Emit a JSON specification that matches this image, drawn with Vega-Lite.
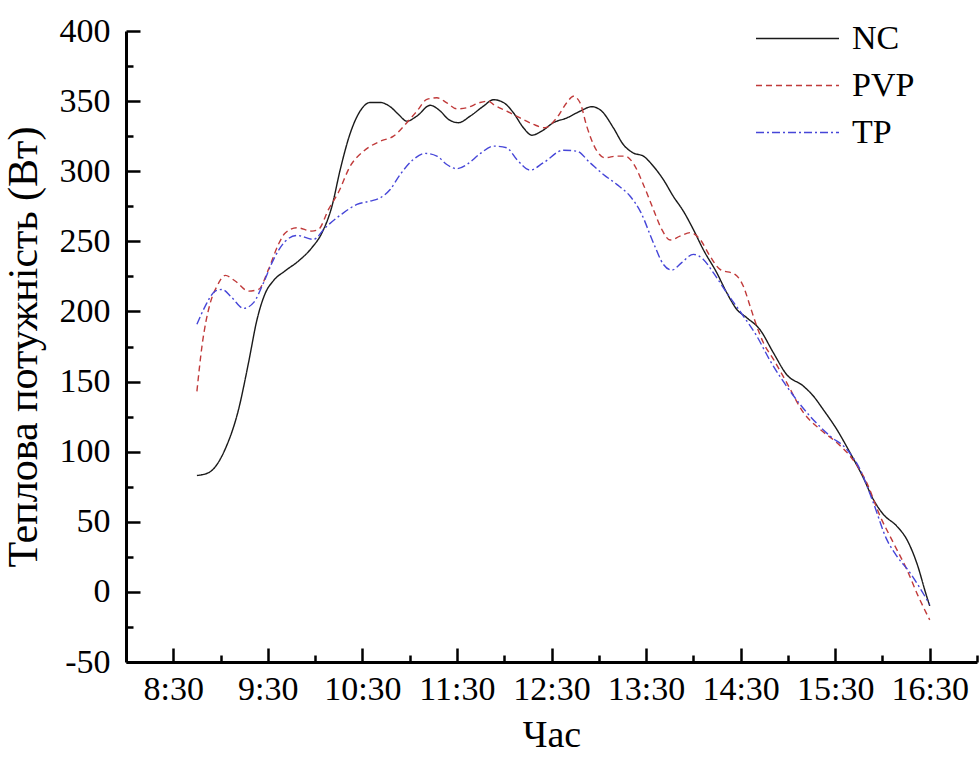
{
  "$schema": "https://vega.github.io/schema/vega-lite/v6.json",
  "width": 851,
  "height": 631,
  "autosize": {"type": "none"},
  "padding": {"left": 126, "top": 31, "right": 2, "bottom": 96},
  "background": "white",
  "config": {
    "view": {"stroke": null},
    "font": "Liberation Serif, serif",
    "axis": {"labelFont": "Liberation Serif, serif", "titleFont": "Liberation Serif, serif", "labelColor": "black", "titleColor": "black", "titleFontWeight": "normal", "domainColor": "black", "tickColor": "black", "grid": false},
    "legend": {"labelFont": "Liberation Serif, serif"}
  },
  "data": {"values": [
    {"t": 8.750, "v": 83, "s": "NC"},
    {"t": 8.873, "v": 85, "s": "NC"},
    {"t": 9.050, "v": 102, "s": "NC"},
    {"t": 9.190, "v": 130, "s": "NC"},
    {"t": 9.296, "v": 163.5, "s": "NC"},
    {"t": 9.385, "v": 194, "s": "NC"},
    {"t": 9.473, "v": 213, "s": "NC"},
    {"t": 9.560, "v": 222, "s": "NC"},
    {"t": 9.684, "v": 229, "s": "NC"},
    {"t": 9.825, "v": 236, "s": "NC"},
    {"t": 9.966, "v": 245.5, "s": "NC"},
    {"t": 10.072, "v": 256, "s": "NC"},
    {"t": 10.178, "v": 275, "s": "NC"},
    {"t": 10.265, "v": 301, "s": "NC"},
    {"t": 10.371, "v": 327, "s": "NC"},
    {"t": 10.477, "v": 343, "s": "NC"},
    {"t": 10.582, "v": 349, "s": "NC"},
    {"t": 10.688, "v": 349, "s": "NC"},
    {"t": 10.794, "v": 346, "s": "NC"},
    {"t": 10.882, "v": 340.5, "s": "NC"},
    {"t": 10.970, "v": 335.7, "s": "NC"},
    {"t": 11.076, "v": 339.3, "s": "NC"},
    {"t": 11.217, "v": 347, "s": "NC"},
    {"t": 11.322, "v": 343, "s": "NC"},
    {"t": 11.410, "v": 337, "s": "NC"},
    {"t": 11.516, "v": 334.6, "s": "NC"},
    {"t": 11.640, "v": 339.3, "s": "NC"},
    {"t": 11.780, "v": 346.4, "s": "NC"},
    {"t": 11.886, "v": 351, "s": "NC"},
    {"t": 11.992, "v": 349, "s": "NC"},
    {"t": 12.097, "v": 341.7, "s": "NC"},
    {"t": 12.203, "v": 331, "s": "NC"},
    {"t": 12.292, "v": 325.7, "s": "NC"},
    {"t": 12.397, "v": 328.6, "s": "NC"},
    {"t": 12.520, "v": 334.6, "s": "NC"},
    {"t": 12.662, "v": 338, "s": "NC"},
    {"t": 12.802, "v": 342.8, "s": "NC"},
    {"t": 12.926, "v": 346, "s": "NC"},
    {"t": 13.032, "v": 342.8, "s": "NC"},
    {"t": 13.154, "v": 331, "s": "NC"},
    {"t": 13.260, "v": 319, "s": "NC"},
    {"t": 13.366, "v": 313, "s": "NC"},
    {"t": 13.471, "v": 310.8, "s": "NC"},
    {"t": 13.577, "v": 303.6, "s": "NC"},
    {"t": 13.683, "v": 294, "s": "NC"},
    {"t": 13.789, "v": 282, "s": "NC"},
    {"t": 13.894, "v": 271.6, "s": "NC"},
    {"t": 14.000, "v": 258.5, "s": "NC"},
    {"t": 14.106, "v": 244, "s": "NC"},
    {"t": 14.247, "v": 227.7, "s": "NC"},
    {"t": 14.353, "v": 213.4, "s": "NC"},
    {"t": 14.459, "v": 201.5, "s": "NC"},
    {"t": 14.564, "v": 195.6, "s": "NC"},
    {"t": 14.705, "v": 187, "s": "NC"},
    {"t": 14.846, "v": 170.6, "s": "NC"},
    {"t": 14.987, "v": 155, "s": "NC"},
    {"t": 15.163, "v": 146.8, "s": "NC"},
    {"t": 15.269, "v": 139.7, "s": "NC"},
    {"t": 15.374, "v": 130, "s": "NC"},
    {"t": 15.516, "v": 116, "s": "NC"},
    {"t": 15.656, "v": 99.4, "s": "NC"},
    {"t": 15.797, "v": 81.5, "s": "NC"},
    {"t": 15.903, "v": 66, "s": "NC"},
    {"t": 16.008, "v": 55.4, "s": "NC"},
    {"t": 16.150, "v": 47, "s": "NC"},
    {"t": 16.256, "v": 37.6, "s": "NC"},
    {"t": 16.361, "v": 21, "s": "NC"},
    {"t": 16.467, "v": -3, "s": "NC"},
    {"t": 16.500, "v": -10, "s": "NC"},

    {"t": 8.750, "v": 143, "s": "PVP"},
    {"t": 8.803, "v": 175, "s": "PVP"},
    {"t": 8.891, "v": 206, "s": "PVP"},
    {"t": 8.962, "v": 218, "s": "PVP"},
    {"t": 9.050, "v": 225.7, "s": "PVP"},
    {"t": 9.155, "v": 221.7, "s": "PVP"},
    {"t": 9.296, "v": 214.5, "s": "PVP"},
    {"t": 9.402, "v": 215.7, "s": "PVP"},
    {"t": 9.507, "v": 230, "s": "PVP"},
    {"t": 9.613, "v": 248, "s": "PVP"},
    {"t": 9.684, "v": 256, "s": "PVP"},
    {"t": 9.808, "v": 259.7, "s": "PVP"},
    {"t": 9.966, "v": 257.3, "s": "PVP"},
    {"t": 10.036, "v": 258.5, "s": "PVP"},
    {"t": 10.142, "v": 272.8, "s": "PVP"},
    {"t": 10.247, "v": 285, "s": "PVP"},
    {"t": 10.371, "v": 303.6, "s": "PVP"},
    {"t": 10.512, "v": 314.3, "s": "PVP"},
    {"t": 10.688, "v": 321.4, "s": "PVP"},
    {"t": 10.829, "v": 325, "s": "PVP"},
    {"t": 10.970, "v": 334.6, "s": "PVP"},
    {"t": 11.076, "v": 342.8, "s": "PVP"},
    {"t": 11.182, "v": 351.2, "s": "PVP"},
    {"t": 11.288, "v": 352.4, "s": "PVP"},
    {"t": 11.393, "v": 348.8, "s": "PVP"},
    {"t": 11.499, "v": 344.5, "s": "PVP"},
    {"t": 11.605, "v": 345.3, "s": "PVP"},
    {"t": 11.745, "v": 349, "s": "PVP"},
    {"t": 11.833, "v": 350, "s": "PVP"},
    {"t": 11.886, "v": 347.6, "s": "PVP"},
    {"t": 12.027, "v": 342.8, "s": "PVP"},
    {"t": 12.168, "v": 338, "s": "PVP"},
    {"t": 12.309, "v": 333.4, "s": "PVP"},
    {"t": 12.431, "v": 331, "s": "PVP"},
    {"t": 12.555, "v": 338, "s": "PVP"},
    {"t": 12.661, "v": 348.8, "s": "PVP"},
    {"t": 12.731, "v": 353.5, "s": "PVP"},
    {"t": 12.802, "v": 348.8, "s": "PVP"},
    {"t": 12.873, "v": 332, "s": "PVP"},
    {"t": 12.961, "v": 316.7, "s": "PVP"},
    {"t": 13.067, "v": 309.6, "s": "PVP"},
    {"t": 13.190, "v": 310.8, "s": "PVP"},
    {"t": 13.278, "v": 310.8, "s": "PVP"},
    {"t": 13.366, "v": 305.5, "s": "PVP"},
    {"t": 13.471, "v": 290.6, "s": "PVP"},
    {"t": 13.577, "v": 272.8, "s": "PVP"},
    {"t": 13.666, "v": 258.5, "s": "PVP"},
    {"t": 13.754, "v": 250.9, "s": "PVP"},
    {"t": 13.859, "v": 253.7, "s": "PVP"},
    {"t": 13.965, "v": 256.2, "s": "PVP"},
    {"t": 14.071, "v": 251.4, "s": "PVP"},
    {"t": 14.176, "v": 239.5, "s": "PVP"},
    {"t": 14.282, "v": 230, "s": "PVP"},
    {"t": 14.441, "v": 226.4, "s": "PVP"},
    {"t": 14.529, "v": 218, "s": "PVP"},
    {"t": 14.600, "v": 203.8, "s": "PVP"},
    {"t": 14.670, "v": 189.6, "s": "PVP"},
    {"t": 14.740, "v": 177.8, "s": "PVP"},
    {"t": 14.846, "v": 166, "s": "PVP"},
    {"t": 14.987, "v": 149.3, "s": "PVP"},
    {"t": 15.163, "v": 128, "s": "PVP"},
    {"t": 15.339, "v": 116, "s": "PVP"},
    {"t": 15.516, "v": 106.5, "s": "PVP"},
    {"t": 15.656, "v": 97, "s": "PVP"},
    {"t": 15.833, "v": 78, "s": "PVP"},
    {"t": 15.974, "v": 54.2, "s": "PVP"},
    {"t": 16.114, "v": 35.2, "s": "PVP"},
    {"t": 16.256, "v": 16.2, "s": "PVP"},
    {"t": 16.378, "v": -3, "s": "PVP"},
    {"t": 16.500, "v": -20, "s": "PVP"},

    {"t": 8.750, "v": 190.8, "s": "TP"},
    {"t": 8.838, "v": 203.8, "s": "TP"},
    {"t": 8.944, "v": 214.5, "s": "TP"},
    {"t": 9.015, "v": 215.7, "s": "TP"},
    {"t": 9.121, "v": 209.8, "s": "TP"},
    {"t": 9.243, "v": 202.2, "s": "TP"},
    {"t": 9.349, "v": 206.3, "s": "TP"},
    {"t": 9.455, "v": 220.5, "s": "TP"},
    {"t": 9.560, "v": 237, "s": "TP"},
    {"t": 9.684, "v": 250, "s": "TP"},
    {"t": 9.808, "v": 254.2, "s": "TP"},
    {"t": 9.983, "v": 251.4, "s": "TP"},
    {"t": 10.107, "v": 259.7, "s": "TP"},
    {"t": 10.283, "v": 269.5, "s": "TP"},
    {"t": 10.442, "v": 276.3, "s": "TP"},
    {"t": 10.582, "v": 278.7, "s": "TP"},
    {"t": 10.688, "v": 281, "s": "TP"},
    {"t": 10.794, "v": 287, "s": "TP"},
    {"t": 10.900, "v": 297.7, "s": "TP"},
    {"t": 11.040, "v": 308.4, "s": "TP"},
    {"t": 11.164, "v": 312.7, "s": "TP"},
    {"t": 11.288, "v": 310.8, "s": "TP"},
    {"t": 11.393, "v": 304.8, "s": "TP"},
    {"t": 11.499, "v": 301.8, "s": "TP"},
    {"t": 11.605, "v": 304.8, "s": "TP"},
    {"t": 11.745, "v": 312.5, "s": "TP"},
    {"t": 11.886, "v": 317.9, "s": "TP"},
    {"t": 12.027, "v": 316.7, "s": "TP"},
    {"t": 12.133, "v": 308.4, "s": "TP"},
    {"t": 12.274, "v": 300.8, "s": "TP"},
    {"t": 12.414, "v": 306, "s": "TP"},
    {"t": 12.626, "v": 315, "s": "TP"},
    {"t": 12.767, "v": 314.3, "s": "TP"},
    {"t": 12.908, "v": 306, "s": "TP"},
    {"t": 13.049, "v": 297.7, "s": "TP"},
    {"t": 13.190, "v": 290.6, "s": "TP"},
    {"t": 13.330, "v": 282.3, "s": "TP"},
    {"t": 13.442, "v": 271, "s": "TP"},
    {"t": 13.577, "v": 249, "s": "TP"},
    {"t": 13.683, "v": 233.6, "s": "TP"},
    {"t": 13.772, "v": 229.5, "s": "TP"},
    {"t": 13.877, "v": 234.8, "s": "TP"},
    {"t": 14.000, "v": 240.7, "s": "TP"},
    {"t": 14.106, "v": 237.1, "s": "TP"},
    {"t": 14.211, "v": 227.7, "s": "TP"},
    {"t": 14.353, "v": 213.4, "s": "TP"},
    {"t": 14.529, "v": 196.7, "s": "TP"},
    {"t": 14.670, "v": 182.5, "s": "TP"},
    {"t": 14.811, "v": 165, "s": "TP"},
    {"t": 15.022, "v": 143.3, "s": "TP"},
    {"t": 15.233, "v": 125.4, "s": "TP"},
    {"t": 15.445, "v": 111.2, "s": "TP"},
    {"t": 15.622, "v": 101.7, "s": "TP"},
    {"t": 15.762, "v": 87.5, "s": "TP"},
    {"t": 15.903, "v": 63.7, "s": "TP"},
    {"t": 16.044, "v": 37.6, "s": "TP"},
    {"t": 16.150, "v": 25.7, "s": "TP"},
    {"t": 16.290, "v": 13.8, "s": "TP"},
    {"t": 16.467, "v": -5.2, "s": "TP"},
    {"t": 16.500, "v": -9, "s": "TP"}
  ]},
  "resolve": {"axis": {"x": "independent", "y": "independent"}},
  "layer": [
    {
      "mark": {"type": "line", "interpolate": "monotone", "strokeWidth": 1.4},
      "encoding": {
        "x": {"field": "t", "type": "quantitative",
              "scale": {"domain": [8, 17], "nice": false, "zero": false},
              "axis": {"orient": "bottom", "values": [8.5, 9.5, 10.5, 11.5, 12.5, 13.5, 14.5, 15.5, 16.5],
                       "labelExpr": "floor(datum.value) + ':30'",
                       "title": "Час", "titleFontSize": 38, "titlePadding": 10,
                       "labelFontSize": 34, "labelPadding": 24, "tickSize": -14, "tickWidth": 2.5, "domainWidth": 3}},
        "y": {"field": "v", "type": "quantitative",
              "scale": {"domain": [-50, 400], "nice": false, "zero": false},
              "axis": {"orient": "left", "values": [-50, 0, 50, 100, 150, 200, 250, 300, 350, 400],
                       "labelExpr": "'' + datum.value",
                       "title": "Теплова потужність (Вт)", "titleFontSize": 42, "titlePadding": 14,
                       "labelFontSize": 34, "labelPadding": 30, "tickSize": -14, "tickWidth": 2.5, "domainWidth": 3}},
        "color": {"field": "s", "type": "nominal",
                  "scale": {"domain": ["NC", "PVP", "TP"], "range": ["#1a1a1a", "#c03a3a", "#4646d8"]},
                  "legend": {"title": null, "orient": "none", "legendX": 650, "legendY": -14,
                             "symbolType": "M-2,0H2", "symbolSize": 1722, "symbolStrokeWidth": 1.5, "symbolFillColor": "transparent",
                             "labelFontSize": 34, "labelColor": "black", "labelOffset": 33, "rowPadding": 8}},
        "strokeDash": {"field": "s", "type": "nominal",
                       "scale": {"domain": ["NC", "PVP", "TP"], "range": [[1, 0], [6, 4], [8, 3, 2, 3]]},
                       "legend": {"title": null, "orient": "none", "legendX": 650, "legendY": -14,
                                  "symbolType": "M-2,0H2", "symbolSize": 1722, "symbolStrokeWidth": 1.5, "symbolFillColor": "transparent",
                                  "labelFontSize": 34, "labelColor": "black", "labelOffset": 33, "rowPadding": 8}}
      }
    },
    {
      "mark": {"type": "point", "opacity": 0},
      "encoding": {
        "x": {"field": "t", "type": "quantitative",
              "axis": {"orient": "bottom", "values": [9, 10, 11, 12, 13, 14, 15, 16, 17],
                       "labels": false, "domain": false, "title": null, "tickSize": -7, "tickWidth": 2.5}},
        "y": {"field": "v", "type": "quantitative",
              "axis": {"orient": "left", "values": [-25, 25, 75, 125, 175, 225, 275, 325, 375],
                       "labels": false, "domain": false, "title": null, "tickSize": -7, "tickWidth": 2.5}}
      }
    }
  ]
}
